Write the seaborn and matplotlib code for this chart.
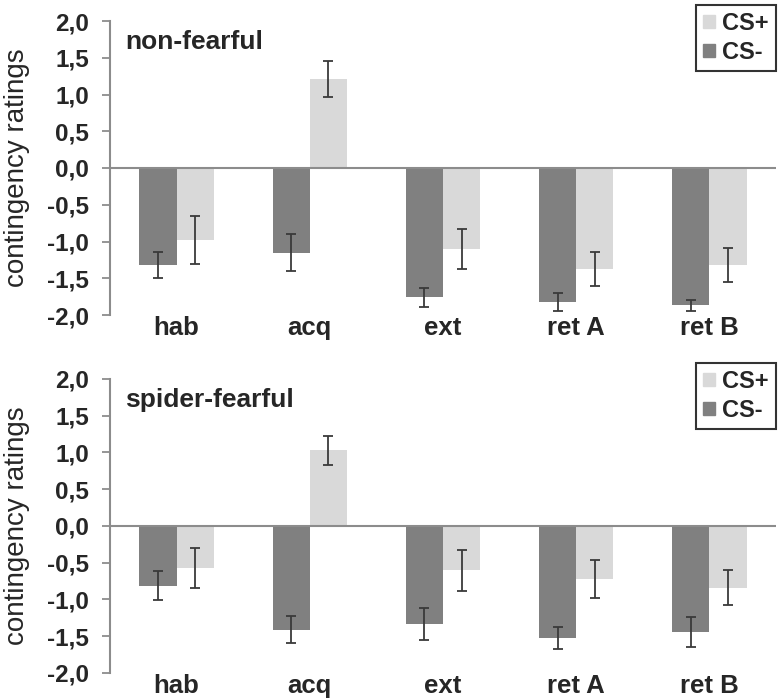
import pandas as pd
import numpy as np
import matplotlib.pyplot as plt
import seaborn as sns
from matplotlib.patches import Patch

sns.set_style('white')
plt.rcParams['font.family'] = ['Liberation Sans', 'DejaVu Sans']

phases = ['hab', 'acq', 'ext', 'ret A', 'ret B']
stimuli = ['CS-', 'CS+']
panel_titles = ['non-fearful', 'spider-fearful']

# non-fearful group
nf_cs_minus = [-1.32, -1.15, -1.76, -1.82, -1.87]
nf_cs_minus_err = [0.18, 0.25, 0.13, 0.12, 0.07]
nf_cs_plus = [-0.98, 1.21, -1.10, -1.37, -1.32]
nf_cs_plus_err = [0.33, 0.24, 0.27, 0.23, 0.23]

# spider-fearful group
sf_cs_minus = [-0.81, -1.41, -1.33, -1.52, -1.44]
sf_cs_minus_err = [0.20, 0.18, 0.22, 0.15, 0.20]
sf_cs_plus = [-0.57, 1.03, -0.60, -0.72, -0.84]
sf_cs_plus_err = [0.27, 0.20, 0.28, 0.26, 0.24]

yticks = [-2.0, -1.5, -1.0, -0.5, 0.0, 0.5, 1.0, 1.5, 2.0]

colors = {'CS-': '#808080', 'CS+': '#d9d9d9'}
axis_gray = '#8c8c8c'


def make_df(minus, plus):
    return pd.DataFrame({
        'phase': phases * 2,
        'stim': ['CS-'] * len(phases) + ['CS+'] * len(phases),
        'value': list(minus) + list(plus),
    })


groups = [
    (make_df(nf_cs_minus, nf_cs_plus), [nf_cs_minus_err, nf_cs_plus_err]),
    (make_df(sf_cs_minus, sf_cs_plus), [sf_cs_minus_err, sf_cs_plus_err]),
]

fig = plt.figure(figsize=(7.84, 7.0), dpi=100)
positions = [[0.1403, 0.55, 0.8495, 0.42], [0.1403, 0.0386, 0.8495, 0.42]]

for pos, title, (df, errs) in zip(positions, panel_titles, groups):
    ax = fig.add_axes(pos)
    sns.barplot(data=df, x='phase', y='value', hue='stim', hue_order=stimuli,
                order=phases, palette=colors, width=0.56, errorbar=None,
                saturation=1, linewidth=0, ax=ax, legend=False)

    for cont, err in zip(ax.containers, errs):
        xs = [b.get_x() + b.get_width() / 2 for b in cont]
        ys = [b.get_height() for b in cont]
        ax.errorbar(xs, ys, yerr=err, fmt='none', ecolor='#3a3a3a',
                    elinewidth=1.3, capsize=3.5, capthick=1.3, zorder=4)

    ax.axhline(0, color=axis_gray, lw=1.5, zorder=3)
    ax.set_ylim(-2, 2)
    ax.set_xlim(-0.5, len(phases) - 0.5)
    ax.set_yticks(yticks)
    ax.set_yticklabels([f'{t:.1f}'.replace('.', ',') for t in yticks],
                       fontsize=17.5, fontweight='bold')
    ax.tick_params(axis='y', direction='out', length=6, width=1.3,
                   color=axis_gray, pad=9, left=True)
    ax.tick_params(axis='x', length=0, pad=1, labelsize=18.5)
    for lab in ax.get_xticklabels():
        lab.set_fontweight('bold')

    for side in ['top', 'right', 'bottom']:
        ax.spines[side].set_visible(False)
    ax.spines['left'].set_color(axis_gray)
    ax.spines['left'].set_linewidth(1.5)

    ax.set_xlabel('')
    ax.set_ylabel('contingency ratings', fontsize=20)
    ax.yaxis.set_label_coords(-0.12, 0.5)

    ax.text(0.0225, 0.905, title, transform=ax.transAxes, fontsize=19,
            fontweight='bold', va='baseline', ha='left')

    handles = [Patch(color=colors['CS+'], label='CS+'),
               Patch(color=colors['CS-'], label='CS-')]
    leg = ax.legend(handles=handles, loc='upper right',
                    bbox_to_anchor=(1.0, 1.055), frameon=True, fancybox=False,
                    prop={'size': 17, 'weight': 'bold'}, handlelength=0.5,
                    handleheight=0.5, handletextpad=0.3, labelspacing=0.25,
                    borderpad=0.3, borderaxespad=0)
    leg.get_frame().set_edgecolor('black')
    leg.get_frame().set_linewidth(1.5)

plt.savefig('out.png', dpi=100)
